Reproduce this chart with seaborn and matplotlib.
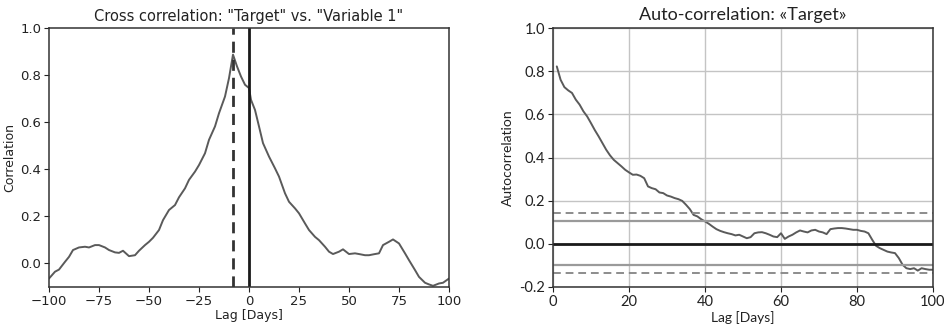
import numpy as np
import pandas as pd
import matplotlib
matplotlib.use("Agg")
import matplotlib.pyplot as plt
import seaborn as sns

# Cross correlation "Target" vs "Variable 1"
cc_lag = [-100, -97, -95, -92, -90, -88, -85, -82, -80, -77, -75, -72, -70, -67,
          -65, -63, -60, -57, -55, -52, -50, -48, -45, -43, -40, -37, -35, -32,
          -30, -27, -25, -22, -20, -17, -15, -12, -10, -8, -6, -4, -2, 0, 1, 3,
          5, 7, 10, 13, 15, 18, 20, 23, 25, 28, 30, 33, 35, 38, 40, 42, 45, 47,
          50, 53, 55, 58, 60, 63, 65, 67, 70, 72, 75, 78, 80, 83, 85, 88, 90, 92,
          95, 97, 100]
cc_value = [-0.064, -0.035, -0.026, 0.007, 0.028, 0.057, 0.068, 0.071, 0.068,
            0.078, 0.078, 0.068, 0.057, 0.047, 0.045, 0.054, 0.031, 0.035, 0.054,
            0.078, 0.092, 0.109, 0.142, 0.184, 0.227, 0.248, 0.281, 0.319, 0.355,
            0.390, 0.418, 0.468, 0.525, 0.582, 0.638, 0.709, 0.787, 0.887, 0.837,
            0.794, 0.759, 0.745, 0.695, 0.652, 0.582, 0.511, 0.454, 0.404, 0.369,
            0.298, 0.262, 0.234, 0.213, 0.170, 0.142, 0.113, 0.099, 0.071, 0.050,
            0.040, 0.050, 0.060, 0.040, 0.043, 0.040, 0.035, 0.035, 0.040, 0.043,
            0.078, 0.092, 0.102, 0.085, 0.043, 0.014, -0.028, -0.057, -0.082,
            -0.089, -0.095, -0.085, -0.082, -0.064]
best_lag = -8

# Auto-correlation of "Target"
ac_lag = list(range(1, 101))
ac_value = [0.822, 0.760, 0.726, 0.711, 0.699, 0.668, 0.645, 0.614, 0.590, 0.559,
            0.527, 0.498, 0.467, 0.436, 0.410, 0.389, 0.374, 0.359, 0.343, 0.331,
            0.320, 0.321, 0.315, 0.304, 0.266, 0.258, 0.253, 0.238, 0.235, 0.224,
            0.219, 0.212, 0.207, 0.199, 0.181, 0.161, 0.134, 0.127, 0.114, 0.104,
            0.093, 0.080, 0.068, 0.060, 0.054, 0.049, 0.045, 0.039, 0.042, 0.034,
            0.026, 0.031, 0.049, 0.053, 0.054, 0.049, 0.042, 0.034, 0.031, 0.049,
            0.023, 0.034, 0.042, 0.053, 0.062, 0.057, 0.053, 0.062, 0.065, 0.057,
            0.053, 0.045, 0.068, 0.071, 0.073, 0.073, 0.071, 0.068, 0.065, 0.065,
            0.060, 0.057, 0.049, 0.019, -0.009, -0.020, -0.028, -0.036, -0.040,
            -0.043, -0.066, -0.097, -0.113, -0.117, -0.113, -0.124, -0.113, -0.117,
            -0.120, -0.120]
# Confidence bands (95% solid, 99% dashed)
band95 = [0.107, -0.100]
band99 = [0.141, -0.133]

sns.set_style("white")
plt.rcParams["font.family"] = ["DejaVu Sans"]

fig = plt.figure(figsize=(9.45, 3.3), dpi=100)
ax1 = fig.add_axes([49 / 945, 1 - 287 / 330, 400 / 945, 259 / 330])
ax2 = fig.add_axes([553 / 945, 1 - 287 / 330, 380 / 945, 259 / 330])

curve_color = "#5a5a5a"

# Left panel: cross correlation
cc_df = pd.DataFrame({"lag": cc_lag, "corr": cc_value})
sns.lineplot(data=cc_df, x="lag", y="corr", ax=ax1, color=curve_color, lw=1.4)
ax1.axvline(best_lag, color="#333333", lw=2, ls=(0, (4, 2.5)))
ax1.axvline(0, color="#1a1a1a", lw=2)
ax1.set_xlim(-100, 100)
ax1.set_ylim(-0.1, 1.0)
ax1.set_xticks([-100, -75, -50, -25, 0, 25, 50, 75, 100])
ax1.set_yticks([0.0, 0.2, 0.4, 0.6, 0.8, 1.0])
ax1.yaxis.set_major_formatter(matplotlib.ticker.FormatStrFormatter("%.1f"))
ax1.set_title('Cross correlation: "Target" vs. "Variable 1"', fontsize=10.5, color="#222222", pad=5)
ax1.set_xlabel("Lag [Days]", fontsize=9, color="#222222", labelpad=1)
ax1.set_ylabel("Correlation", fontsize=9, color="#222222", labelpad=3)
ax1.tick_params(axis="both", labelsize=9.5, colors="#222222", length=3.5, width=0.8,
                direction="out", bottom=True, left=True, pad=2)
for s in ax1.spines.values():
    s.set_color("#333333")
    s.set_linewidth(1.1)

# Right panel: auto-correlation with confidence bands
ac_df = pd.DataFrame({"lag": ac_lag, "corr": ac_value})
sns.lineplot(data=ac_df, x="lag", y="corr", ax=ax2, color=curve_color, lw=1.4)
for v in band99:
    ax2.axhline(v, color="#8c8c8c", lw=1.4, ls=(0, (4, 2.5)))
for v in band95:
    ax2.axhline(v, color="#9a9a9a", lw=1.6)
ax2.axhline(0.0, color="#1a1a1a", lw=2)
ax2.set_xlim(0, 100)
ax2.set_ylim(-0.2, 1.0)
ax2.set_xticks([0, 20, 40, 60, 80, 100])
ax2.set_yticks([-0.2, 0.0, 0.2, 0.4, 0.6, 0.8, 1.0])
ax2.yaxis.set_major_formatter(matplotlib.ticker.FormatStrFormatter("%.1f"))
ax2.grid(True, color="#c4c4c4", lw=1.0)
ax2.set_axisbelow(True)
rfont = ["Lato", "DejaVu Sans"]
ax2.set_title("Auto-correlation: «Target»", fontsize=13, color="#222222", pad=6, family=rfont)
ax2.set_xlabel("Lag [Days]", fontsize=10, color="#222222", labelpad=2, family=rfont)
ax2.set_ylabel("Autocorrelation", fontsize=10, color="#222222", labelpad=4, family=rfont)
ax2.tick_params(axis="both", labelsize=10.5, colors="#222222", length=3.5, width=0.8,
                direction="out", bottom=True, left=True, pad=2)
for lab in ax2.get_xticklabels() + ax2.get_yticklabels():
    lab.set_family(rfont)
for s in ax2.spines.values():
    s.set_color("#333333")
    s.set_linewidth(1.1)

fig.savefig("out.png", dpi=100, facecolor="white")
